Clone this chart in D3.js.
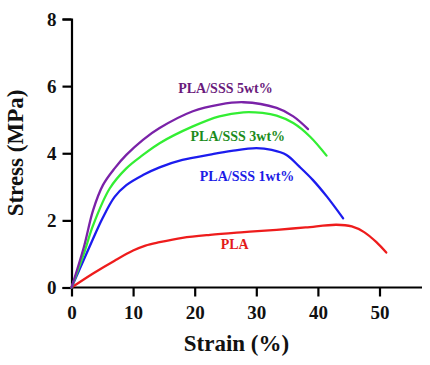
<!DOCTYPE html>
<html>
<head>
<meta charset="utf-8">
<script src="https://cdn.jsdelivr.net/npm/d3@7"></script>
<style>
  body { margin: 0; background: #fff; }
  svg text { font-family: "Liberation Serif", "Times New Roman", serif; font-weight: bold; }
</style>
</head>
<body>
<svg id="chart" width="430" height="365"></svg>
<script>
// strain (%) / stress (MPa)
var pla = [[0, 0], [3.5, 0.42], [7, 0.8], [10, 1.1], [12, 1.25], [14.3, 1.35], [18, 1.48], [22.5, 1.57], [28, 1.65], [33.3, 1.72], [38, 1.79], [43, 1.87], [45.5, 1.82], [47.5, 1.65], [49.5, 1.35], [51.1, 1.04]];
var sss1 = [[0, 0], [3.5, 1.45], [5, 2.05], [7, 2.7], [8.9, 3.05], [11.6, 3.35], [14.3, 3.58], [18, 3.8], [22.5, 3.96], [26, 4.07], [30, 4.15], [32.5, 4.1], [34.9, 3.95], [37, 3.6], [39.2, 3.2], [41.5, 2.7], [44.1, 2.06]];
var sss3 = [[0, 0], [2, 1.0], [3.5, 1.85], [6.2, 2.95], [8.9, 3.55], [11.6, 3.95], [14.3, 4.3], [19.7, 4.8], [24, 5.1], [27.9, 5.22], [31, 5.2], [33.3, 5.12], [36, 4.9], [38.7, 4.5], [41.4, 3.93]];
var sss5 = [[0, 0], [2, 1.2], [3.5, 2.3], [5.1, 3.05], [7, 3.55], [8.9, 3.95], [11.6, 4.4], [14.3, 4.75], [19.7, 5.25], [24, 5.45], [27.9, 5.52], [33.3, 5.35], [36, 5.1], [38.4, 4.72]];

var seriesNames = ['PLA', 'PLA/SSS 1wt%', 'PLA/SSS 3wt%', 'PLA/SSS 5wt%'];
var lineColors = ['#ee1c1c', '#1c1cee', '#33ee33', '#7a22a8'];
var labelColors = ['#e31b1b', '#1c1ce6', '#1c8c1c', '#6a1b7c'];
// label centre in data units
var labelPos = [[26.5, 1.28], [28.5, 3.33], [27, 4.5], [25, 5.95]];

var xTicks = [0, 10, 20, 30, 40, 50];
var yTicks = [0, 2, 4, 6, 8];

var svg = d3.select('#chart');
var x = d3.scaleLinear().domain([0, 50]).range([71.5, 379.5]);
var y = d3.scaleLinear().domain([0, 8]).range([287.5, 19]);

var xAxis = svg.append('g').attr('transform', 'translate(0,' + y(0) + ')')
  .call(d3.axisBottom(x).tickValues(xTicks).tickSize(9).tickPadding(6));
xAxis.select('.domain').attr('d', 'M' + x(0) + ',0H' + 422);

var yAxis = svg.append('g').attr('transform', 'translate(' + x(0) + ',0)')
  .call(d3.axisLeft(y).tickValues(yTicks).tickSize(9).tickPadding(6));

svg.selectAll('.domain, .tick line').attr('stroke', '#000').attr('stroke-width', 2.2);
svg.selectAll('g').attr('font-family', '"Liberation Serif", serif');
svg.selectAll('.tick text').attr('font-size', 19).attr('fill', '#111');
xAxis.selectAll('.tick text').attr('dy', '0.85em');

var line = d3.line()
  .x(function(d) { return x(d[0]); })
  .y(function(d) { return y(d[1]); })
  .curve(d3.curveCatmullRom.alpha(0.5));

var allSeries = [pla, sss1, sss3, sss5];
svg.append('g').selectAll('path').data(allSeries).enter().append('path')
  .attr('d', line)
  .attr('fill', 'none')
  .attr('stroke', function(d, i) { return lineColors[i]; })
  .attr('stroke-width', 2.3)
  .attr('stroke-linecap', 'round');

svg.append('g').selectAll('text').data(seriesNames).enter().append('text')
  .attr('x', function(d, i) { return x(labelPos[i][0]); })
  .attr('y', function(d, i) { return y(labelPos[i][1]); })
  .attr('text-anchor', 'middle')
  .attr('dy', '0.35em')
  .attr('font-size', 14)
  .attr('fill', function(d, i) { return labelColors[i]; })
  .text(function(d) { return d; });

svg.append('text').attr('x', 236.5).attr('y', 351)
  .attr('text-anchor', 'middle').attr('font-size', 23).attr('fill', '#111')
  .text('Strain (%)');

svg.append('text').attr('transform', 'translate(23,153) rotate(-90)')
  .attr('text-anchor', 'middle').attr('font-size', 23).attr('fill', '#111')
  .text('Stress (MPa)');
</script>
</body>
</html>
